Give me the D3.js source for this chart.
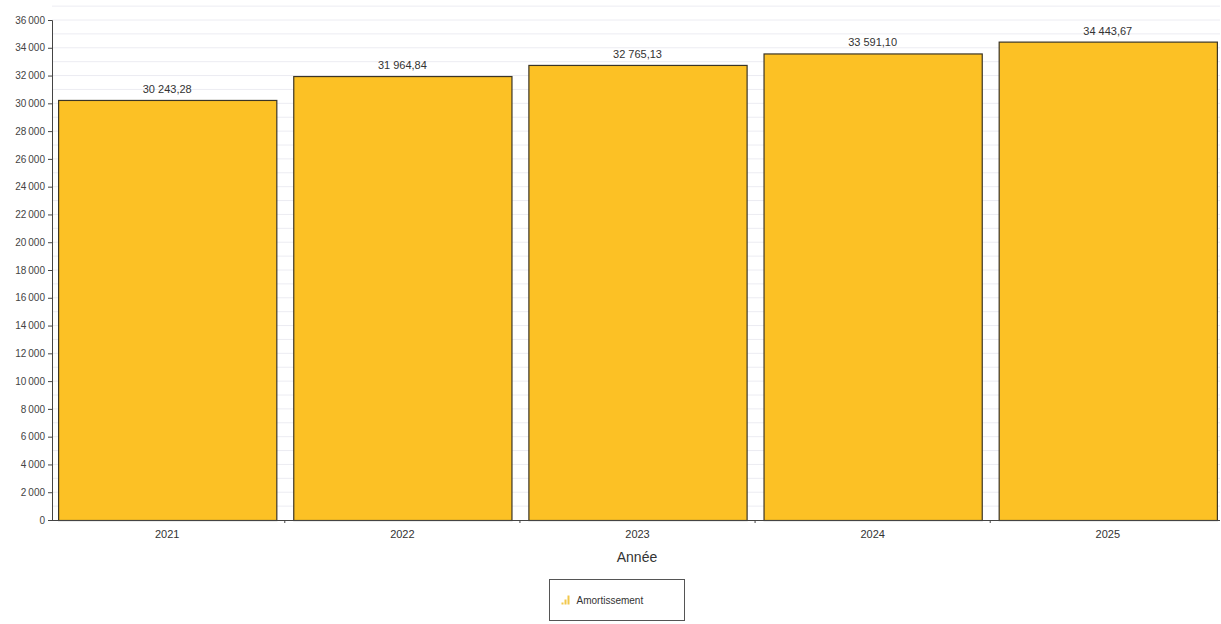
<!DOCTYPE html>
<html><head><meta charset="utf-8">
<script src="https://cdn.jsdelivr.net/npm/d3@7"></script>
<style>body{margin:0;background:#fff;font-family:"Liberation Sans",Arial,sans-serif}</style>
</head><body><svg id="c" width="1221" height="624"></svg>
<script>
const categories = ["2021","2022","2023","2024","2025"];
const values = [30243.28, 31964.84, 32765.13, 33591.10, 34443.67];
const yTicks = [0,2000,4000,6000,8000,10000,12000,14000,16000,18000,20000,22000,24000,26000,28000,30000,32000,34000,36000];
const seriesName = "Amortissement";
const xTitle = "Année";

const svg = d3.select("#c");
const L = 52, R = 1220, T = 20, B = 520;
const x = d3.scaleBand().domain(categories).range([L, 1223]).paddingInner(0.072).paddingOuter(0.026);
const y = d3.scaleLinear().domain([0, 36000]).range([B, T]);
const fmtInt = v => d3.format(",")(v).replace(/,/g, "\u202f");
const fmtVal = v => d3.format(",.2f")(v).replace(/,/g, " ").replace(".", ",");

// minor gridlines every 1000
const minor = d3.range(1000, 37001, 1000);
svg.append("g").selectAll("line").data(minor).join("line")
  .attr("x1", L).attr("x2", R).attr("y1", d => y(d)).attr("y2", d => y(d))
  .attr("stroke", "#ececf2").attr("stroke-width", 1);

// bars
svg.append("g").selectAll("rect").data(values).join("rect")
  .attr("x", (d, i) => x(categories[i]) + 0.5)
  .attr("y", d => y(d) + 0.5)
  .attr("width", x.bandwidth())
  .attr("height", d => B - y(d))
  .attr("fill", "#fcc125").attr("stroke", "#3b3526").attr("stroke-width", 1.2);

// value labels
svg.append("g").selectAll("text").data(values).join("text")
  .attr("x", (d, i) => x(categories[i]) + x.bandwidth() / 2)
  .attr("y", d => y(d) - 7)
  .attr("text-anchor", "middle").attr("font-size", 11).attr("fill", "#333")
  .text(d => fmtVal(d));

// y axis
const ya = svg.append("g").attr("transform", `translate(${L},0)`)
  .call(d3.axisLeft(y).tickValues(yTicks).tickSize(4).tickFormat(d => fmtInt(d)));
ya.select(".domain").attr("stroke", "#444");
ya.selectAll(".tick line").attr("stroke", "#444");
ya.selectAll("text").attr("font-size", 10).attr("fill", "#444").attr("font-family", "Liberation Sans, Arial, sans-serif");

// x axis
const xa = svg.append("g").attr("transform", `translate(0,${B + 0.5})`)
  .call(d3.axisBottom(x).tickSize(0).tickPadding(10));
xa.select(".domain").attr("d", `M${L},0H${R}`).attr("stroke", "#444");
xa.selectAll("text").attr("font-size", 11).attr("fill", "#333").attr("font-family", "Liberation Sans, Arial, sans-serif");
// small separator ticks between categories
svg.append("g").selectAll("line").data(categories.slice(1)).join("line")
  .attr("x1", d => x(d) - x.step() * x.paddingInner() / 2)
  .attr("x2", d => x(d) - x.step() * x.paddingInner() / 2)
  .attr("y1", B).attr("y2", B + 3).attr("stroke", "#444");

// x title
svg.append("text").attr("x", 637).attr("y", 562).attr("text-anchor", "middle")
  .attr("font-size", 14).attr("fill", "#333").text(xTitle);

// legend
const lg = svg.append("g").attr("transform", "translate(549.5,579.5)");
lg.append("rect").attr("width", 135).attr("height", 41).attr("fill", "#fff").attr("stroke", "#555");
const icon = lg.append("g").attr("transform", "translate(12,13)");
[[0,10,2],[3,7,5],[6,3,9]].forEach(([dx,dy,h]) => icon.append("rect").attr("x", dx).attr("y", dy).attr("width", 2).attr("height", h).attr("fill", "#f2c84b"));
lg.append("text").attr("x", 27).attr("y", 24).attr("font-size", 10).attr("fill", "#333").text(seriesName);
</script></body></html>
